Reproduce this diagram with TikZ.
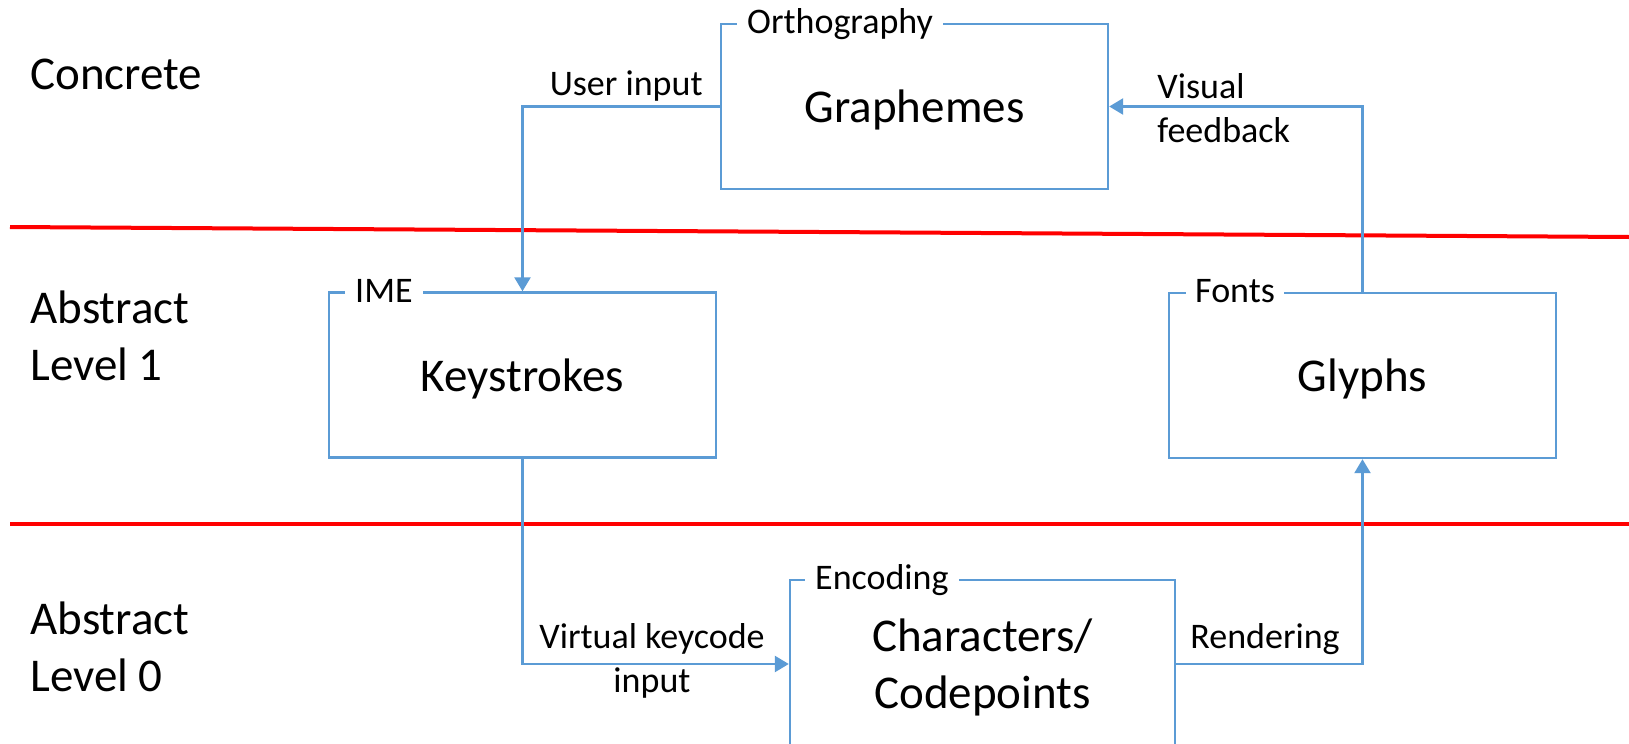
\documentclass[tikz,border=0pt]{standalone}
\usepackage{fontspec}
\setmainfont{Carlito}
\usetikzlibrary{arrows.meta}
\definecolor{boxblue}{HTML}{5B9BD5}
\definecolor{sepred}{HTML}{FF0000}
\newcommand{\bigtxt}{\fontsize{23.5}{28.5}\selectfont}
\newcommand{\smalltxt}{\fontsize{18}{22}\selectfont}
\tikzset{
  box/.style={draw=boxblue, line width=1.2pt, minimum width=193.5pt, minimum height=82.5pt, inner sep=0pt, font=\bigtxt, align=center, text depth=0pt},
  tag/.style={fill=white, inner xsep=5pt, inner ysep=1pt, font=\smalltxt, anchor=base west},
  arr/.style={draw=boxblue, line width=1.2pt, -{Triangle[length=7pt,width=8pt]}},
  sepline/.style={draw=sepred, line width=2pt},
  lbl/.style={font=\smalltxt, inner sep=0pt},
  level/.style={font=\bigtxt, align=left, anchor=base west, inner sep=0pt}
}
\begin{document}
\begin{tikzpicture}[x=0.5pt, y=-0.5pt]
\useasboundingbox (0,0) rectangle (1629,744);
\clip (0,0) rectangle (1629,744);
\fill[white] (0,0) rectangle (1629,744);
% separators
\coordinate (r1a) at (10,227);
\coordinate (r1b) at (1629,237);
\coordinate (r2a) at (10,524);
\coordinate (r2b) at (1629,524);
\draw[sepline] (r1a) -- (r1b);
\draw[sepline] (r2a) -- (r2b);
% level labels (base anchor = last line baseline)
\node[level] (concrete) at (30,89) {Concrete};
\node[level] (abs1) at (30,380) {Abstract\\Level 1};
\node[level] (abs0) at (30,691) {Abstract\\Level 0};
% boxes
\node[box] (graph) at (914.5,106.5) {Graphemes};
\node[box] (keys) at (522.5,375) {Keystrokes};
\node[box] (glyph) at (1362.5,375.5) {Glyphs};
\node[box, minimum width=192.5pt, minimum height=84pt] (chars) at (982.5,664) {Characters/\\Codepoints};
% box tags
\node[tag] (ortho) at ([xshift=8.5pt,yshift=-5.5pt]graph.north west) {Orthography};
\node[tag] (ime) at ([xshift=8.5pt,yshift=-5.5pt]keys.north west) {IME};
\node[tag, inner xsep=4.5pt] (fonts) at ([xshift=9pt,yshift=-5.5pt]glyph.north west) {Fonts};
\node[tag] (enc) at ([xshift=8pt,yshift=-5.5pt]chars.north west) {Encoding};
% connectors
\draw[arr] (graph.west) -| (keys.north);
\draw[arr] (glyph.north) |- (graph.east);
\draw[arr] (keys.south) |- (chars.west);
\draw[arr] (chars.east) -| (glyph.south);
% connector labels
\node[lbl, anchor=base east] (userin) at (703,95) {User input};
\node[lbl, anchor=base west, align=left] (visfb) at (1157,142) {Visual\\feedback};
\node[lbl, anchor=base, align=center] (vkey) at (652,692) {Virtual keycode\\input};
\node[lbl, anchor=base west] (render) at (1190,648) {Rendering};
\end{tikzpicture}
\end{document}
